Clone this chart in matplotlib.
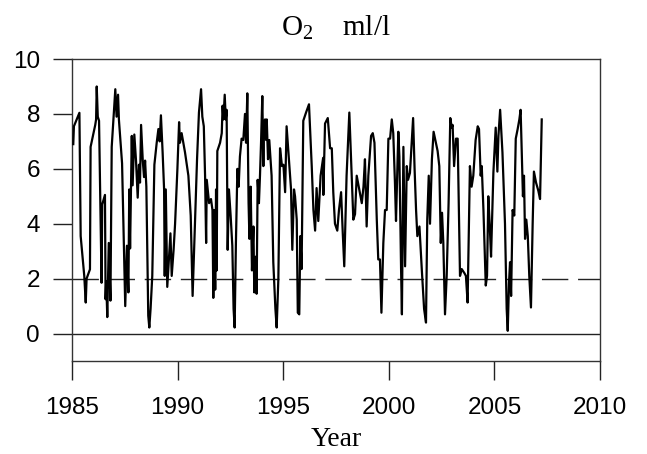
import matplotlib
matplotlib.use("Agg")
import matplotlib.pyplot as plt

# O2 (ml/l) time series
years = [
    1985.06, 1985.09, 1985.35, 1985.41, 1985.58, 1985.65, 1985.69, 1985.85, 1985.88,
    1986.10, 1986.14, 1986.17, 1986.22, 1986.28, 1986.40, 1986.43, 1986.56, 1986.59,
    1986.62, 1986.67, 1986.74, 1986.82, 1986.88, 1987.05, 1987.11, 1987.18, 1987.22,
    1987.37, 1987.52, 1987.60, 1987.67, 1987.71, 1987.75, 1987.83, 1987.87, 1987.95,
    1988.03, 1988.11, 1988.17, 1988.22, 1988.27, 1988.35, 1988.41, 1988.46, 1988.52,
    1988.61, 1988.66, 1988.72, 1988.80, 1988.90, 1989.01, 1989.09, 1989.15, 1989.21,
    1989.29, 1989.36, 1989.39, 1989.44, 1989.51, 1989.58, 1989.66, 1989.72, 1989.81,
    1989.88, 1989.99, 1990.07, 1990.11, 1990.19, 1990.35, 1990.51, 1990.62, 1990.71,
    1990.82, 1990.92, 1991.01, 1991.11, 1991.17, 1991.24, 1991.30, 1991.35, 1991.38,
    1991.49, 1991.58, 1991.65, 1991.69, 1991.74, 1991.78, 1991.82, 1991.85, 1991.88,
    1992.01, 1992.09, 1992.13, 1992.17, 1992.23, 1992.28, 1992.32, 1992.37, 1992.43,
    1992.51, 1992.59, 1992.65, 1992.70, 1992.76, 1992.83, 1992.89, 1992.95, 1993.03,
    1993.11, 1993.19, 1993.24, 1993.30, 1993.36, 1993.40, 1993.46, 1993.52, 1993.59,
    1993.63, 1993.70, 1993.74, 1993.79, 1993.85, 1993.90, 1993.95, 1994.01, 1994.06,
    1994.09, 1994.14, 1994.19, 1994.22, 1994.28, 1994.34, 1994.45, 1994.53, 1994.63,
    1994.69, 1994.77, 1994.85, 1994.94, 1995.01, 1995.09, 1995.16, 1995.27, 1995.37,
    1995.43, 1995.51, 1995.56, 1995.64, 1995.69, 1995.76, 1995.81, 1995.87, 1995.95,
    1996.08, 1996.22, 1996.35, 1996.43, 1996.51, 1996.58, 1996.66, 1996.77, 1996.89,
    1996.90, 1996.98, 1997.11, 1997.22, 1997.30, 1997.37, 1997.45, 1997.56, 1997.64,
    1997.74, 1997.82, 1997.89, 1998.00, 1998.13, 1998.24, 1998.32, 1998.40, 1998.48,
    1998.60, 1998.72, 1998.80, 1998.87, 1998.95, 1999.03, 1999.16, 1999.24, 1999.32,
    1999.43, 1999.50, 1999.58, 1999.65, 1999.74, 1999.82, 1999.90, 1999.98, 2000.06,
    2000.14, 2000.21, 2000.29, 2000.34, 2000.45, 2000.50, 2000.58, 2000.62, 2000.69,
    2000.77, 2000.85, 2000.91, 2001.00, 2001.08, 2001.15, 2001.22, 2001.29, 2001.35,
    2001.45, 2001.56, 2001.67, 2001.76, 2001.82, 2001.89, 2001.95, 2002.04, 2002.12,
    2002.23, 2002.31, 2002.39, 2002.46, 2002.52, 2002.58, 2002.66, 2002.74, 2002.83,
    2002.91, 2002.98, 2003.02, 2003.09, 2003.18, 2003.26, 2003.37, 2003.45, 2003.58,
    2003.65, 2003.73, 2003.84, 2003.92, 2004.00, 2004.11, 2004.21, 2004.27, 2004.35,
    2004.40, 2004.48, 2004.59, 2004.65, 2004.71, 2004.78, 2004.84, 2004.95, 2005.06,
    2005.14, 2005.19, 2005.27, 2005.38, 2005.50, 2005.58, 2005.63, 2005.69, 2005.74,
    2005.79, 2005.86, 2005.94, 2006.01, 2006.10, 2006.18, 2006.24, 2006.32, 2006.35,
    2006.40, 2006.45, 2006.51, 2006.58, 2006.65, 2006.73, 2006.81, 2006.87, 2006.97,
    2007.08, 2007.16, 2007.24,
]
o2 = [
    6.90, 7.55, 8.04, 3.55, 2.10, 1.13, 2.00, 2.34, 6.80,
    7.60, 7.80, 9.00, 7.90, 7.75, 1.85, 4.70, 5.05, 1.25,
    1.90, 0.60, 3.30, 1.20, 6.80, 8.90, 7.90, 8.70, 7.80,
    6.20, 1.00, 3.20, 1.50, 5.25, 3.10, 7.20, 5.40, 7.25,
    6.30, 4.95, 6.15, 5.50, 7.60, 6.30, 5.70, 6.30, 5.35,
    0.65, 0.22, 0.90, 2.10, 6.15, 6.95, 7.45, 7.00, 7.95,
    6.60, 5.25, 2.10, 5.25, 1.70, 2.60, 3.65, 2.10, 3.05,
    4.00, 6.00, 7.70, 6.95, 7.30, 6.60, 5.75, 4.30, 1.37,
    4.00, 6.35, 8.05, 8.90, 7.90, 7.55, 5.75, 3.30, 5.60,
    4.75, 4.90, 4.50, 1.30, 4.50, 1.60, 5.25, 2.30, 6.65,
    6.95, 7.30, 8.30, 7.80, 8.70, 7.80, 8.15, 3.05, 5.25,
    4.30, 3.20, 0.90, 0.22, 3.30, 6.00, 5.35, 6.45, 7.10,
    7.05, 8.00, 6.95, 8.75, 4.75, 3.45, 5.35, 2.30, 3.90,
    1.50, 2.80, 1.45, 5.60, 4.75, 5.75, 6.95, 8.65, 6.10,
    7.65, 7.80, 7.05, 7.80, 6.35, 7.05, 5.75, 2.60, 0.90,
    0.22, 2.00, 6.75, 6.10, 6.15, 5.15, 7.55, 6.35, 5.25,
    3.05, 5.25, 5.00, 4.15, 0.76, 0.70, 3.55, 2.35, 7.75,
    8.05, 8.35, 6.10, 4.50, 3.75, 5.30, 4.10, 5.75, 6.40,
    5.05, 7.65, 7.85, 6.75, 6.75, 5.15, 4.00, 3.75, 4.50,
    5.15, 3.65, 2.45, 5.75, 8.05, 5.75, 4.15, 4.35, 5.75,
    5.25, 4.75, 5.35, 6.35, 3.90, 5.75, 7.20, 7.30, 6.95,
    4.15, 2.70, 2.70, 0.76, 3.30, 4.50, 4.50, 7.10, 7.10,
    7.80, 7.30, 5.50, 4.10, 7.35, 6.45, 2.35, 0.70, 6.80,
    2.45, 6.10, 5.60, 5.85, 6.95, 7.85, 6.00, 4.50, 3.55,
    3.90, 2.35, 0.90, 0.40, 4.15, 5.75, 4.00, 6.35, 7.35,
    6.95, 6.65, 6.10, 3.30, 4.40, 3.30, 0.70, 2.10, 4.75,
    7.85, 7.50, 7.60, 6.10, 7.10, 7.10, 2.10, 2.35, 2.20,
    2.10, 1.13, 6.10, 5.35, 5.75, 7.05, 7.55, 7.45, 5.75,
    6.10, 4.50, 1.75, 2.10, 5.00, 3.90, 2.80, 5.85, 7.50,
    5.90, 7.20, 8.15, 6.60, 4.00, 0.90, 0.10, 1.85, 2.60,
    1.37, 4.50, 4.30, 7.10, 7.45, 7.80, 8.15, 5.75, 5.00,
    5.75, 3.45, 4.15, 3.55, 2.10, 0.95, 4.00, 5.90, 5.50,
    5.20, 4.90, 7.80,
]

xticks = [1985, 1990, 1995, 2000, 2005, 2010]
yticks = [0, 2, 4, 6, 8, 10]
threshold = 2

plt.rcParams['mathtext.fontset'] = 'custom'
plt.rcParams['mathtext.rm'] = 'Liberation Serif'
plt.rcParams['mathtext.it'] = 'Liberation Serif:italic'

fig = plt.figure(figsize=(6.47, 4.54), dpi=100)
ax = fig.add_axes([0.1113, 0.2048, 0.8161, 0.6652])

ax.plot(years, o2, color='black', lw=1.6, zorder=3)
ax.axhline(0, color='#222222', lw=1.0, zorder=2)
ax.axhline(threshold, color='#222222', lw=1.0, linestyle=(0, (19, 7)), zorder=2)

ax.set_xlim(1985, 2010)
ax.set_ylim(-1, 10)
ax.set_xticks(xticks)
ax.set_yticks(yticks)
ax.set_xticklabels([str(t) for t in xticks], family='Liberation Sans', fontsize=17.5)
ax.set_yticklabels([str(t) for t in yticks], family='Liberation Sans', fontsize=17.5)
ax.tick_params(axis='both', direction='out', length=14, width=1.0, color='#222222')
ax.tick_params(axis='x', pad=12)
ax.tick_params(axis='y', pad=9)
for s in ax.spines.values():
    s.set_linewidth(1.0)
    s.set_color('#333333')

ax.set_title(r'$\mathrm{O_2}$    ml/l', family='Liberation Serif', fontsize=21, pad=17)
ax.set_xlabel('Year', family='Liberation Serif', fontsize=20, labelpad=6)

fig.savefig('out.png', dpi=100)
